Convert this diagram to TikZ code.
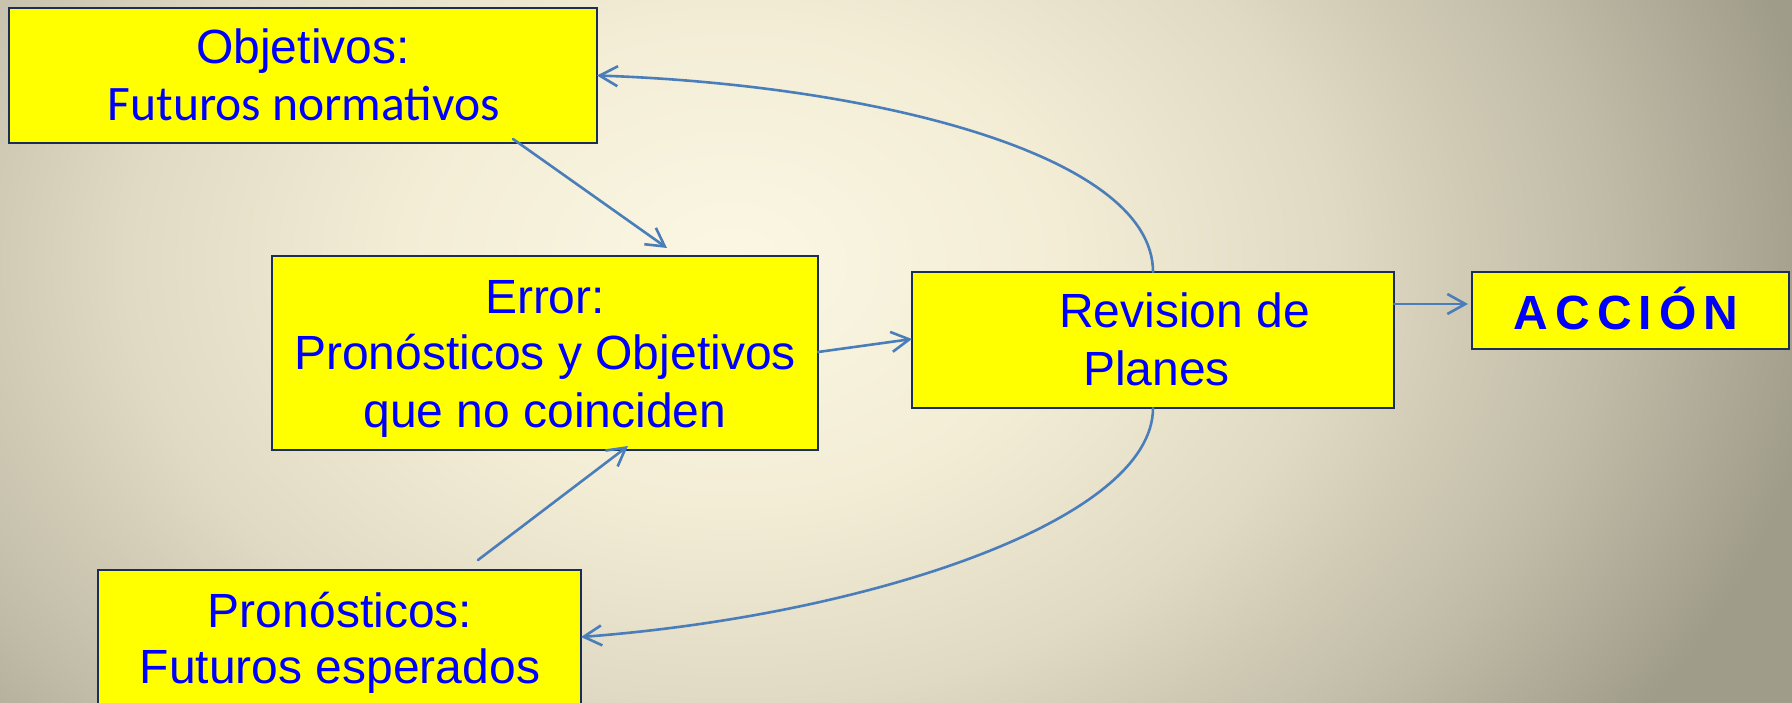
\documentclass[tikz,border=0pt]{standalone}
\usepackage{fontspec}
\setmainfont{Liberation Sans}
\newfontfamily\calib{Carlito}
\usetikzlibrary{arrows.meta}
\definecolor{bgA}{HTML}{FBF7E3}
\definecolor{bgB}{HTML}{F3EDD6}
\definecolor{bgC}{HTML}{E0D9C3}
\definecolor{bgD}{HTML}{C0BBA7}
\definecolor{bgE}{HTML}{A09C8A}
\definecolor{boxline}{HTML}{1B2E5A}
\definecolor{boxfill}{HTML}{FFFF00}
\definecolor{txtblue}{HTML}{0000FF}
\definecolor{arrowblue}{HTML}{4A7EBB}
\pgfdeclareradialshading{bgshade}{\pgfpoint{0bp}{0bp}}{color(0bp)=(bgA); color(7.5bp)=(bgB); color(13.75bp)=(bgC); color(20bp)=(bgD); color(25bp)=(bgE); color(50bp)=(bgE)}
\begin{document}
\begin{tikzpicture}[x=0.5pt,y=-0.5pt,
  box/.style={draw=boxline, line width=1pt, fill=boxfill, inner sep=0pt, outer sep=0pt},
  lbl/.style={anchor=base, text=txtblue, font=\fontsize{24}{28}\selectfont, inner sep=0pt, outer sep=0pt},
  conn/.style={draw=arrowblue, line width=1.3pt, line cap=round, -{Straight Barb[length=9pt,width=10pt]}}]
\useasboundingbox (0,0) rectangle (1792,702);
\begin{scope}
  \clip (0,0) rectangle (1792,702);
  \shade[shading=bgshade] (-369,-537) rectangle (1831,1063);
\end{scope}
% boxes
\node[box, minimum width=294pt, minimum height=67.5pt] (obj) at (303,75.5) {};
\node[box, minimum width=273pt, minimum height=97pt] (err) at (545,353) {};
\node[box, minimum width=241pt, minimum height=68pt] (rev) at (1153,340) {};
\node[box, minimum width=158.5pt, minimum height=38.5pt] (acc) at (1630.5,310.5) {};
\node[box, minimum width=241.5pt, minimum height=75pt] (pron) at (339.5,645) {};
% texts
\node[lbl] (objA) at (303,63) {Objetivos:};
\node[lbl, font=\calib\fontsize{24.8}{28}\selectfont] (objB) at (304,120) {Futuros normativos};
\node[lbl] (errA) at (545,313) {Error:};
\node[lbl] (errB) at (545,369) {Pronósticos y Objetivos};
\node[lbl] (errC) at (545,427) {que no coinciden};
\node[lbl, anchor=base west] (revA) at (1059,327) {Revision de};
\node[lbl, anchor=base west] (revB) at (1083,385) {Planes};
\node[lbl, font=\bfseries\fontsize{24}{28}\selectfont] (accA) at (1626,329) {A\kern3.5pt C\kern3.5pt C\kern3.5pt I\kern3.5pt Ó\kern3.5pt N};
\node[lbl] (pronA) at (340,627) {Pronósticos:};
\node[lbl] (pronB) at (340,683) {Futuros esperados};
% connectors
\draw[conn] ([xshift=105pt,yshift=2pt]obj.south) -- ([xshift=61pt,yshift=4pt]err.north);
\draw[conn] ([xshift=69.25pt,yshift=5pt]pron.north) -- ([xshift=41.5pt,yshift=2pt]err.south);
\draw[conn] ([yshift=0.5pt]err.east) -- ([yshift=0.5pt]rev.west);
\draw[conn] ([yshift=18pt]rev.east) -- ([xshift=-2pt,yshift=3.25pt]acc.west);
\draw[conn] (rev.north) .. controls (1153,155) and (875,85) .. (obj.east);
\draw[conn] (rev.south) .. controls (1153,520) and (870,615) .. ([yshift=4pt]pron.east);
\end{tikzpicture}
\end{document}
